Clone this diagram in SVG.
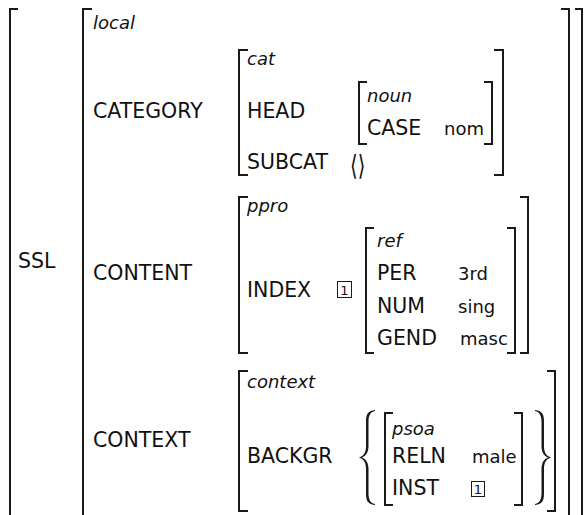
<svg xmlns="http://www.w3.org/2000/svg" width="584" height="515" viewBox="0 0 584 515">
<style>
.br{fill:none;stroke:#1a1a1a;stroke-width:2}
.bc{fill:#1a1a1a;stroke:none}
.bx{fill:none;stroke:#1a1a1a;stroke-width:1}
.lb{font-family:"DejaVu Sans",sans-serif;font-size:20.5px;fill:#111}
.vl{font-family:"DejaVu Sans",sans-serif;font-size:18px;fill:#111}
.ty{font-family:"DejaVu Sans",sans-serif;font-size:18px;font-style:italic;fill:#111}
.tg{font-family:"DejaVu Sans",sans-serif;font-size:13px;fill:#111;text-anchor:middle}
.ang{font-family:"DejaVu Sans","Noto Sans",sans-serif;font-size:28px;fill:#111}
</style>
<g id="ssl">
<path class="br" d="M18,9 H10 V530"/>
<path class="br" d="M575,9 H582 V530"/>
<text class="lb" x="18" y="268">SSL</text>
</g>
<g id="local">
<path class="br" d="M92,9 H83 V530"/>
<path class="br" d="M561,9 H569 V530"/>
<text class="ty" x="93" y="29">local</text>
<text class="lb" x="93" y="118">CATEGORY</text>
<text class="lb" x="93" y="280">CONTENT</text>
<text class="lb" x="93" y="447">CONTEXT</text>
</g>
<g id="cat">
<path class="br" d="M248,50 H239 V175 H248"/>
<path class="br" d="M494,50 H503 V175 H494"/>
<text class="ty" x="247" y="65">cat</text>
<text class="lb" x="247" y="118">HEAD</text>
<text class="lb" x="247" y="169">SUBCAT</text>
<text class="ang" transform="translate(350,175) scale(0.7,1)">⟨⟩</text>
</g>
<g id="noun">
<path class="br" d="M367,82 H359 V144 H367"/>
<path class="br" d="M484,82 H492 V144 H484"/>
<text class="ty" x="367" y="102">noun</text>
<text class="lb" x="367" y="135">CASE</text>
<text class="vl" x="444" y="135">nom</text>
</g>
<g id="ppro">
<path class="br" d="M248,197 H239 V353 H248"/>
<path class="br" d="M520,197 H528 V353 H520"/>
<text class="ty" x="247" y="212">ppro</text>
<text class="lb" x="247" y="297">INDEX</text>
<rect class="bx" x="337.5" y="281.5" width="14" height="16"/>
<text class="tg" x="344.5" y="294.5">1</text>
</g>
<g id="ref">
<path class="br" d="M374,228 H366 V353 H374"/>
<path class="br" d="M507,228 H515 V353 H507"/>
<text class="ty" x="377" y="247">ref</text>
<text class="lb" x="377" y="280">PER</text>
<text class="vl" x="458" y="280">3rd</text>
<text class="lb" x="377" y="313">NUM</text>
<text class="vl" x="458" y="313">sing</text>
<text class="lb" x="377" y="345">GEND</text>
<text class="vl" x="460" y="345">masc</text>
</g>
<g id="context">
<path class="br" d="M248,371 H239 V511 H248"/>
<path class="br" d="M547,371 H555 V511 H547"/>
<text class="ty" x="247" y="388">context</text>
<text class="lb" x="247" y="463">BACKGR</text>
<path class="bc" d="M375,410 C367,411 366,415 366,422 L366,446 C366,452 364,456 359,457.5 C364,459 366,463 366,469 L366,493 C366,500 367,504 375,505 L375,504 C370,503 368.5,499 368.5,493 L368.5,469 C368.5,463 366,459 362,457.5 C366,456 368.5,452 368.5,446 L368.5,422 C368.5,416 370,412 375,411 Z"/>
<path class="bc" d="M535,410 C543,411 544,415 544,422 L544,446 C544,452 546,456 551,457.5 C546,459 544,463 544,469 L544,493 C544,500 543,504 535,505 L535,504 C540,503 541.5,499 541.5,493 L541.5,469 C541.5,463 544,459 548,457.5 C544,456 541.5,452 541.5,446 L541.5,422 C541.5,416 540,412 535,411 Z"/>
</g>
<g id="psoa">
<path class="br" d="M393,413 H385 V505 H393"/>
<path class="br" d="M514,413 H522 V505 H514"/>
<text class="ty" x="392" y="435">psoa</text>
<text class="lb" x="392" y="463">RELN</text>
<text class="vl" x="472" y="463">male</text>
<text class="lb" x="392" y="495">INST</text>
<rect class="bx" x="471.5" y="481.5" width="13" height="15"/>
<text class="tg" x="478" y="494">1</text>
</g>
<g id="connectors"></g>
</svg>
